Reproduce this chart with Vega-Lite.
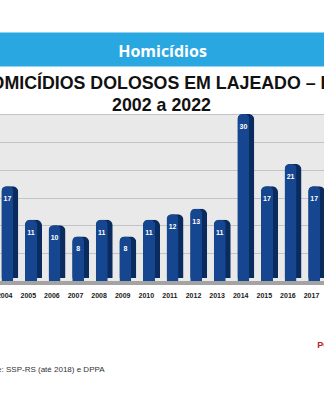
{
  "$schema": "https://vega.github.io/schema/vega-lite/v6.json",
  "width": 324,
  "height": 167,
  "autosize": {"type": "none"},
  "padding": {"top": 114, "left": 0, "right": 0, "bottom": 119},
  "background": "#ffffff",
  "config": {"view": {"fill": "#e9e9e9", "stroke": null}, "font": "Liberation Sans"},
  "data": {
    "values": [
      {"year": "2004", "value": 17},
      {"year": "2005", "value": 11},
      {"year": "2006", "value": 10},
      {"year": "2007", "value": 8},
      {"year": "2008", "value": 11},
      {"year": "2009", "value": 8},
      {"year": "2010", "value": 11},
      {"year": "2011", "value": 12},
      {"year": "2012", "value": 13},
      {"year": "2013", "value": 11},
      {"year": "2014", "value": 30},
      {"year": "2015", "value": 17},
      {"year": "2016", "value": 21},
      {"year": "2017", "value": 17}
    ]
  },
  "layer": [
    {
      "mark": {"type": "rule", "color": "#a3a3a3", "strokeWidth": 4, "yOffset": 2},
      "encoding": {"y": {"datum": 0, "type": "quantitative", "axis": null}}
    },
    {
      "mark": {"type": "bar", "width": 17, "xOffset": 5.2, "yOffset": -3, "y2Offset": 0, "color": "#0a2b5e", "cornerRadiusTopLeft": 6, "cornerRadiusTopRight": 6},
      "encoding": {
        "x": {
          "field": "year",
          "type": "ordinal",
          "scale": {
            "domain": ["2002","2003","2004","2005","2006","2007","2008","2009","2010","2011","2012","2013","2014","2015","2016","2017","2018","2019","2020","2021","2022"],
            "range": [-54.3, 441.3],
            "paddingInner": 0,
            "paddingOuter": 0
          },
          "axis": {
            "orient": "bottom",
            "domain": false,
            "ticks": false,
            "grid": false,
            "labelFont": "Liberation Sans",
            "labelFontSize": 7,
            "labelFontWeight": "bold",
            "labelColor": "#1a1a1a",
            "labelPadding": 10,
            "labelAngle": 0,
            "labelOverlap": false,
            "labelBound": false,
            "labelFlush": false,
            "title": "Fonte: SSP-RS (até 2018) e DPPA",
            "titleX": -19.4,
            "titleY": 90,
            "titleAlign": "left",
            "titleBaseline": "alphabetic",
            "titleAngle": 0,
            "titleFont": "Liberation Sans",
            "titleFontSize": 8,
            "titleFontWeight": "normal",
            "titleColor": "#333333"
          }
        },
        "y": {
          "field": "value",
          "type": "quantitative",
          "scale": {"domain": [0, 30], "nice": false},
          "axis": {
            "orient": "left",
            "values": [0, 5, 10, 15, 20, 25, 30],
            "grid": true,
            "gridColor": "#c4c4c4",
            "gridWidth": 1,
            "labels": false,
            "ticks": false,
            "domain": false,
            "title": ["HOMICÍDIOS DOLOSOS EM LAJEADO – RS", "2002 a 2022"],
            "titleAngle": 0,
            "titleX": 161,
            "titleY": -26,
            "titleAlign": "center",
            "titleBaseline": "alphabetic",
            "titleFont": "Liberation Sans",
            "titleFontSize": 17.8,
            "titleFontWeight": "bold",
            "titleColor": "#111111",
            "titleLineHeight": 22
          }
        }
      }
    },
    {
      "mark": {"type": "bar", "width": 12, "xOffset": 2.7, "color": "#15468f", "cornerRadiusTopLeft": 5, "cornerRadiusTopRight": 5},
      "encoding": {
        "x": {"field": "year", "type": "ordinal", "axis": null},
        "y": {"field": "value", "type": "quantitative", "axis": null}
      }
    },
    {
      "mark": {"type": "text", "dx": 2.7, "dy": 13, "color": "#ffffff", "fontSize": 7, "fontWeight": "bold", "baseline": "middle", "font": "Liberation Sans"},
      "encoding": {
        "x": {
          "field": "year",
          "type": "ordinal",
          "axis": {
            "orient": "top",
            "labels": false,
            "ticks": false,
            "grid": false,
            "domain": true,
            "domainColor": "#29a7e1",
            "domainWidth": 34,
            "offset": 65,
            "title": "Homicídios",
            "titleColor": "#ffffff",
            "titleFont": "Open Sans",
            "titleFontSize": 16,
            "titleFontWeight": "bold",
            "titleX": 162,
            "titleY": 2,
            "titleAlign": "center",
            "titleBaseline": "middle",
            "titleAngle": 0
          }
        },
        "y": {
          "field": "value",
          "type": "quantitative",
          "axis": {
            "orient": "right",
            "labels": false,
            "ticks": false,
            "domain": false,
            "grid": false,
            "title": "PC",
            "titleAngle": 0,
            "titleX": -7.3,
            "titleY": 233,
            "titleAlign": "left",
            "titleBaseline": "alphabetic",
            "titleFont": "Liberation Sans",
            "titleFontSize": 9,
            "titleFontWeight": "bold",
            "titleColor": "#b3242b"
          }
        },
        "text": {"field": "value", "type": "quantitative"}
      }
    }
  ],
  "resolve": {"axis": {"x": "independent", "y": "independent"}}
}
